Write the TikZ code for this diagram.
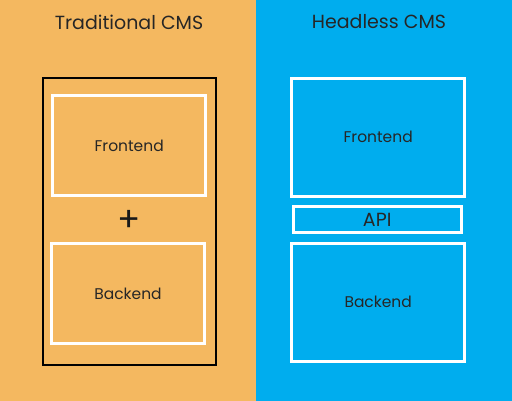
\documentclass[tikz,border=0pt]{standalone}
\usepackage{fontspec}
\setmainfont{Poppins}
\definecolor{tradorange}{RGB}{244,184,96}
\definecolor{headblue}{RGB}{0,173,238}
\tikzset{
    part/.style={rectangle, draw=white, line width=3pt, inner sep=0pt, text=black!85, font=\fontsize{15.5}{18}\selectfont},
    title/.style={text=black!85, font=\fontsize{19}{22}\selectfont}
}
\begin{document}
\begin{tikzpicture}[x=1pt, y=-1pt]
        \fill[tradorange] (0,0) rectangle (256,401);
        \fill[headblue] (256,0) rectangle (512,401);

        \node[title] (tradtitle) at (129, 22) {Traditional CMS};
        \node[title] (headtitle) at (379, 22) {Headless CMS};

        \node[rectangle, draw=black, line width=2pt, minimum width=173pt, minimum height=286.7pt] (tradbox) at (129.8, 221.7) {};
        \node[part, minimum width=152.7pt, minimum height=100pt] (tradfront) at (129.2, 145.5) {Frontend};
        \node[font=\fontsize{34}{34}\selectfont, text=black!90] (plus) at (129, 221) {+};
        \node[part, minimum width=152.4pt, minimum height=100pt] (tradback) at (128, 293.5) {Backend};

        \node[part, minimum width=172.7pt, minimum height=118pt] (headfront) at (378.2, 137.2) {Frontend};
        \node[part, minimum width=168pt, minimum height=25.4pt, font=\fontsize{19}{21}\selectfont] (api) at (377.2, 219.5) {API};
        \node[part, minimum width=172.7pt, minimum height=118pt] (headback) at (378.2, 302.2) {Backend};

    \end{tikzpicture}
\end{document}
